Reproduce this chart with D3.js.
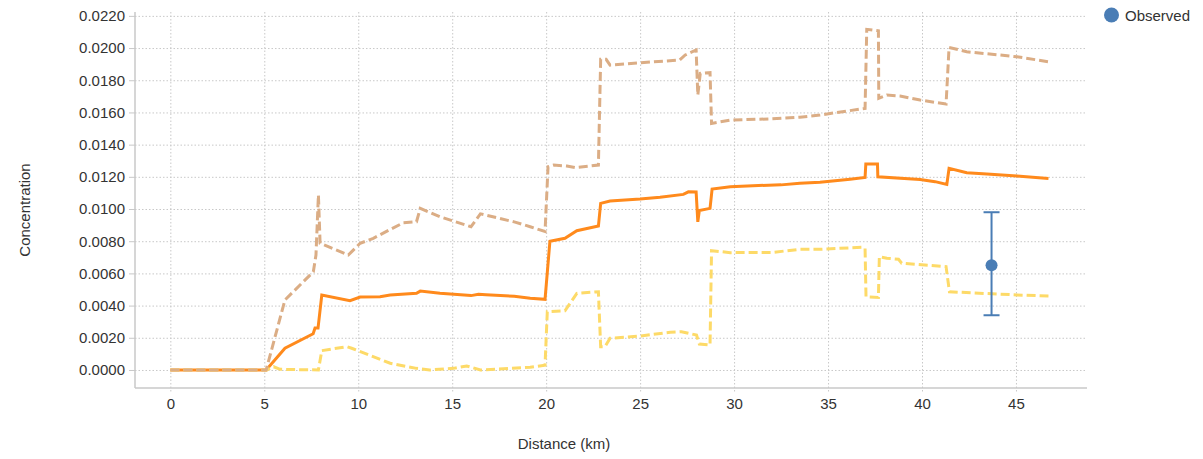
<!DOCTYPE html>
<html>
  <head>
    <meta charset="utf-8">
    <title>Concentration vs distance</title>
    <script src="https://d3js.org/d3.v7.min.js"></script>
    <style>
      body { margin: 0; background: #fff; }
      text { font-family: "Liberation Sans", Arial, sans-serif; fill: #333; }
    </style>
  </head>
  <body>

  <script type="text/javascript">
    // series data (distance in km, concentration)
    var meanDist = [0, 5.1, 6.1, 7.6, 7.7, 7.86, 8.06, 9.56, 10.1, 11.16, 11.7, 13.1, 13.3, 14.35, 16.0, 16.4, 16.8, 18.3, 19.15, 19.94,
                    20.2, 21.0, 21.63, 22.78, 22.9, 23.4, 25.0, 26.06, 27.3, 27.57, 27.98, 28.07, 28.15, 28.72, 28.83, 29.8,
                    31.0, 32.5, 33.5, 34.57, 36.17, 36.97, 37.01, 37.63, 37.65, 39.9, 40.7, 41.32, 41.44, 42.38, 43.45, 45.05, 46.73];
    var meanConc = [0, 0, 0.00135, 0.00225, 0.0026, 0.0026, 0.00466, 0.0043, 0.00453, 0.00455, 0.00466, 0.00476, 0.0049, 0.00476, 0.00462, 0.0047, 0.00468, 0.00458, 0.00445, 0.00439,
                    0.0080, 0.00818, 0.00865, 0.00894, 0.01035, 0.0105, 0.01062, 0.01073, 0.01091, 0.01107, 0.01106, 0.0092, 0.0099, 0.01004, 0.01124, 0.01139,
                    0.01145, 0.0115, 0.0116, 0.01166, 0.01185, 0.01196, 0.0128, 0.0128, 0.0120, 0.01184, 0.0117, 0.01153, 0.01253, 0.01225, 0.01217, 0.01205, 0.0119];

    var upperDist = [0, 5.1, 6.1, 7.61, 7.75, 7.88, 7.97, 9.47, 10.1, 10.8, 12.4, 13.1, 13.3, 14.35, 16.0, 16.5, 18.3, 19.15, 19.94,
                     20.1, 20.4, 21.1, 21.54, 22.78, 22.9, 23.19, 23.4, 25.0, 27.1, 27.4, 27.98, 28.07, 28.2, 28.72, 28.8, 29.8,
                     32.0, 33.5, 34.57, 36.97, 37.06, 37.68, 37.7, 38.13, 38.83, 39.9, 41.28, 41.44, 42.38, 45.05, 46.73];
    var upperConc = [0, 0, 0.00435, 0.0061, 0.00714, 0.01087, 0.00787, 0.00714, 0.00787, 0.00818, 0.00915, 0.00921, 0.01004, 0.00952, 0.0089, 0.0097, 0.0092, 0.0089, 0.0086,
                     0.01263, 0.01273, 0.01267, 0.01257, 0.01273, 0.0193, 0.0193, 0.01894, 0.01909, 0.01925, 0.01957, 0.01988, 0.01708, 0.01843, 0.01847, 0.01532, 0.01553,
                     0.0156, 0.0157, 0.01584, 0.01625, 0.02116, 0.02107, 0.01688, 0.01708, 0.01702, 0.01677, 0.01652, 0.02004, 0.01977, 0.01946, 0.01915];

    var lowerDist = [0, 5.13, 5.5, 5.84, 7.88, 8.06, 9.39, 9.65, 11.7, 13.1, 13.8, 15.06, 15.77, 16.5, 19.15, 19.94,
                     20.06, 21.0, 21.27, 21.63, 22.78, 22.9, 23.13, 23.4, 25.0, 26.6, 27.2, 28.0, 28.15, 28.72, 28.8, 29.8,
                     32.0, 33.5, 34.57, 36.8, 36.97, 37.02, 37.68, 37.73, 38.13, 38.75, 38.92, 41.28, 41.46, 45.05, 46.73];
    var lowerConc = [0, 0, 0.0002, 0.00004, 0, 0.0012, 0.00145, 0.00135, 0.00042, 0.0001, 0, 0.0001, 0.00025, 0, 0.00017, 0.0003,
                     0.00362, 0.00368, 0.00414, 0.00476, 0.00486, 0.00145, 0.00145, 0.00197, 0.00211, 0.00234, 0.00238, 0.00217, 0.00161, 0.00155, 0.00741, 0.00729,
                     0.0073, 0.0075, 0.0075, 0.00762, 0.00756, 0.00455, 0.00451, 0.00704, 0.00694, 0.00688, 0.00663, 0.00642, 0.00486, 0.00466, 0.0046];

    var obsDist = [43.7];
    var obsConc = [0.0065];
    var obsLow = [0.0034];
    var obsHigh = [0.0098];

    var xTicks = [0, 5, 10, 15, 20, 25, 30, 35, 40, 45];
    var yTicks = [0, 0.002, 0.004, 0.006, 0.008, 0.010, 0.012, 0.014, 0.016, 0.018, 0.020, 0.022];

    var W = 1203, H = 459;
    var plotL = 135, plotR = 1087, plotT = 12, plotB = 388;

    var svg = d3.select('body')
                .append('svg')
                .attr('width', W)
                .attr('height', H);

    var x = d3.scaleLinear().domain([-1.88, 48.78]).range([plotL, plotR]);
    var y = d3.scaleLinear().domain([-0.00112, 0.02224]).range([plotB, plotT]);

    // grid lines
    svg.append('g')
       .attr('transform', 'translate(0,' + plotT + ')')
       .call(d3.axisBottom(x).tickValues(xTicks).tickSize(plotB - plotT + 5).tickFormat(''))
       .call(function(g){
         g.select('.domain').remove();
         g.selectAll('line').attr('stroke', '#c8c8c8').attr('stroke-dasharray', '1.5,2');
       });
    svg.append('g')
       .attr('transform', 'translate(' + plotL + ',0)')
       .call(d3.axisRight(y).tickValues(yTicks).tickSize(plotR - plotL).tickFormat(''))
       .call(function(g){
         g.select('.domain').remove();
         g.selectAll('line').attr('stroke', '#c8c8c8').attr('stroke-dasharray', '1.5,2');
       });

    // axes
    var yAxis = svg.append('g')
       .attr('transform', 'translate(' + plotL + ',0)')
       .call(d3.axisLeft(y).tickValues(yTicks).tickSize(6).tickSizeOuter(0).tickPadding(4).tickFormat(d3.format('.4f')));
    yAxis.select('.domain').remove();
    yAxis.selectAll('line').attr('stroke', '#c8c8c8');
    yAxis.selectAll('text').style('font-size', '15px').attr('fill', '#333');

    var xAxis = svg.append('g')
       .attr('transform', 'translate(0,' + plotB + ')')
       .call(d3.axisBottom(x).tickValues(xTicks).tickSize(0).tickPadding(10).tickFormat(d3.format('d')));
    xAxis.select('.domain').remove();
    xAxis.selectAll('text').style('font-size', '15px').attr('fill', '#333');

    svg.append('line').attr('x1', plotL).attr('x2', plotL).attr('y1', plotT).attr('y2', plotB)
       .attr('stroke', '#c8c8c8').attr('stroke-width', 1.5);
    svg.append('line').attr('x1', plotL).attr('x2', plotR).attr('y1', plotB).attr('y2', plotB)
       .attr('stroke', '#c8c8c8').attr('stroke-width', 1.5);

    // axis titles
    svg.append('text')
       .attr('transform', 'translate(30,210) rotate(-90)')
       .attr('text-anchor', 'middle')
       .style('font-size', '15px')
       .text('Concentration');
    svg.append('text')
       .attr('x', 564).attr('y', 449)
       .attr('text-anchor', 'middle')
       .style('font-size', '15px')
       .text('Distance (km)');

    // lines
    var line = d3.line().x(function(d){ return x(d[0]); }).y(function(d){ return y(d[1]); });
    var series = [
      {dist: meanDist, conc: meanConc, color: '#ff8a1c', dash: null},
      {dist: lowerDist, conc: lowerConc, color: '#fdda68', dash: '9,4'},
      {dist: upperDist, conc: upperConc, color: '#dbad85', dash: '9,4'}
    ];
    series.forEach(function(s){
      svg.append('path')
         .datum(d3.zip(s.dist, s.conc))
         .attr('d', line)
         .attr('fill', 'none')
         .attr('stroke', s.color)
         .attr('stroke-width', 3)
         .attr('stroke-dasharray', s.dash);
    });

    // observed point with error bar
    var obs = svg.append('g');
    obsDist.forEach(function(d, i){
      var cx = x(d);
      obs.append('line').attr('x1', cx).attr('x2', cx).attr('y1', y(obsLow[i])).attr('y2', y(obsHigh[i]))
         .attr('stroke', '#4a7db5').attr('stroke-width', 2);
      obs.append('line').attr('x1', cx - 8).attr('x2', cx + 8).attr('y1', y(obsLow[i])).attr('y2', y(obsLow[i]))
         .attr('stroke', '#4a7db5').attr('stroke-width', 2);
      obs.append('line').attr('x1', cx - 8).attr('x2', cx + 8).attr('y1', y(obsHigh[i])).attr('y2', y(obsHigh[i]))
         .attr('stroke', '#4a7db5').attr('stroke-width', 2);
      obs.append('circle').attr('cx', cx).attr('cy', y(obsConc[i])).attr('r', 6)
         .attr('fill', '#4a7db5');
    });

    // legend
    svg.append('circle').attr('cx', 1111.5).attr('cy', 15).attr('r', 7.5).attr('fill', '#4a7db5');
    svg.append('text').attr('x', 1125).attr('y', 20.5).style('font-size', '15px').text('Observed');
  </script>
  </body>
</html>
